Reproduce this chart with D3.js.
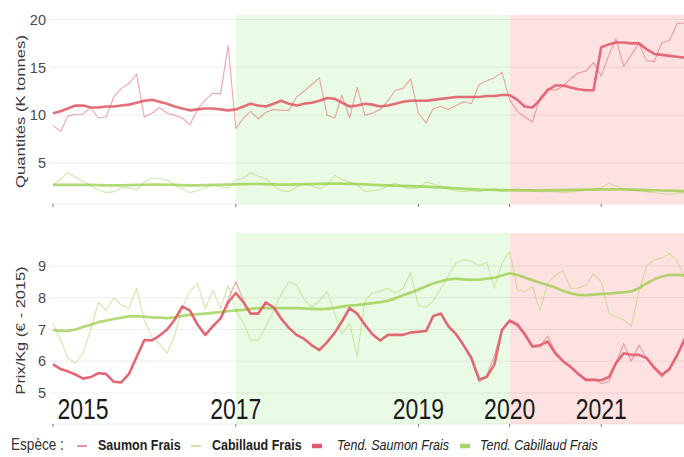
<!DOCTYPE html>
<html><head><meta charset="utf-8">
<script src="https://cdn.jsdelivr.net/npm/d3@7/dist/d3.min.js"></script>
<style>body{margin:0;background:#fff}svg{display:block;font-family:"Liberation Sans",Arial,sans-serif}</style>
</head><body><svg id="c" width="684" height="457"></svg>
<script>
// ---------- DATA (monthly, Jan 2015 onward) ----------
const startMonth = "2015-01";
const qtySaumon = [8.9,8.3,9.9,10.1,10.1,10.8,9.7,9.8,11.9,12.8,13.3,14.3,
 9.8,10.2,10.8,10.2,10.0,9.7,9.0,10.6,11.6,12.3,12.2,17.3,
 8.6,9.7,10.4,9.6,10.3,10.6,10.5,10.5,11.9,12.5,13.2,13.9,
 10.0,9.7,12.1,9.7,12.9,10.0,10.2,10.6,11.5,12.6,12.8,13.8,
 10.2,9.2,10.7,10.9,10.6,11.0,11.4,11.2,13.2,13.6,13.9,14.5,
 11.6,10.4,9.8,9.3,11.8,12.8,12.6,13.0,13.8,14.4,14.6,15.5,
 14.1,16.3,18.0,15.1,16.3,17.5,15.7,15.6,17.6,17.8,19.6,19.6];
const qtySaumonTend = [10.2,10.4,10.7,11.0,11.0,10.8,10.8,10.9,10.9,11.0,11.1,11.3,
 11.5,11.6,11.4,11.2,10.9,10.7,10.5,10.6,10.7,10.7,10.6,10.5,
 10.6,10.9,11.2,11.0,10.9,11.2,11.5,11.2,11.0,11.2,11.3,11.5,
 11.8,11.7,11.3,10.9,11.0,11.2,11.1,10.9,11.0,11.2,11.4,11.5,
 11.5,11.5,11.6,11.7,11.8,11.9,11.9,11.9,11.9,12.0,12.0,12.1,
 12.1,11.6,10.9,10.8,11.6,12.6,13.1,13.1,12.9,12.7,12.6,12.6,
 17.1,17.4,17.6,17.6,17.5,17.5,16.9,16.4,16.3,16.2,16.1,16.0];
const qtyCabillaud = [2.7,3.3,4.0,3.5,3.1,2.6,2.2,1.9,2.0,2.4,2.4,2.2,
 3.0,3.4,3.4,3.2,2.7,2.3,1.9,2.1,2.4,2.7,2.5,2.4,
 3.2,3.4,4.0,3.6,3.4,2.6,2.1,2.0,2.5,2.8,2.6,2.3,
 2.7,3.7,3.3,3.0,2.7,2.0,2.1,2.2,2.6,2.9,2.5,2.3,
 2.4,3.0,2.8,2.6,2.3,2.1,2.0,2.1,2.0,2.2,2.3,2.0,
 2.2,2.3,2.2,2.1,2.0,2.0,2.0,1.9,2.0,2.1,2.2,2.3,
 2.4,2.9,2.6,2.3,2.2,2.1,2.0,1.9,1.8,1.7,1.8,1.9];
const qtyCabillaudTend = [2.7,2.7,2.7,2.7,2.7,2.7,2.68,2.66,2.65,2.66,2.68,2.7,
 2.72,2.73,2.73,2.72,2.7,2.68,2.66,2.66,2.68,2.7,2.72,2.74,
 2.76,2.78,2.8,2.8,2.78,2.76,2.74,2.74,2.76,2.78,2.8,2.82,
 2.84,2.85,2.84,2.82,2.8,2.76,2.72,2.68,2.65,2.63,2.6,2.58,
 2.55,2.52,2.48,2.44,2.4,2.35,2.3,2.26,2.22,2.2,2.18,2.17,
 2.15,2.14,2.13,2.13,2.14,2.15,2.16,2.17,2.18,2.19,2.2,2.22,
 2.23,2.24,2.24,2.23,2.21,2.19,2.17,2.15,2.12,2.1,2.08,2.06];
const prixSaumon = [5.92,5.72,5.7,5.55,5.47,5.5,5.64,5.58,5.33,5.35,5.62,6.1,
 6.7,6.63,6.82,6.98,7.32,7.75,7.58,7.17,6.8,7.12,7.33,7.95,
 8.5,7.9,7.48,7.52,7.87,7.68,7.3,7.07,6.8,6.72,6.48,6.37,
 6.58,6.92,7.22,7.7,7.48,7.17,6.83,6.67,6.8,6.85,6.82,6.93,
 6.9,6.97,7.42,7.5,7.08,6.82,6.48,6.05,5.35,5.55,6.18,7.0,
 7.3,7.2,6.9,6.45,6.45,6.8,6.3,6.02,5.8,5.58,5.42,5.43,
 5.3,5.35,5.95,6.55,6.0,6.5,6.1,5.75,5.5,5.8,6.2,6.75];
const prixSaumonTend = [5.9,5.75,5.68,5.58,5.45,5.5,5.62,5.6,5.35,5.33,5.6,6.13,
 6.66,6.66,6.8,7.0,7.3,7.72,7.6,7.15,6.83,7.1,7.35,7.85,
 8.15,7.85,7.5,7.5,7.85,7.7,7.35,7.05,6.83,6.7,6.5,6.35,
 6.6,6.9,7.25,7.67,7.5,7.15,6.85,6.65,6.83,6.83,6.83,6.9,
 6.93,6.95,7.42,7.5,7.1,6.85,6.5,6.1,5.42,5.5,5.9,6.98,
 7.28,7.14,6.85,6.46,6.5,6.62,6.25,6.0,5.82,5.6,5.41,5.41,
 5.4,5.5,5.94,6.25,6.2,6.2,6.1,5.8,5.57,5.75,6.2,6.7];
const prixCabillaud = [7.2,6.65,6.1,5.94,6.25,7.0,7.85,7.6,8.0,7.78,7.67,8.3,
 7.3,6.75,6.55,6.25,6.8,7.7,8.2,8.45,7.65,8.24,7.65,8.4,
 7.6,7.2,6.67,6.65,7.1,7.6,8.1,8.5,8.4,7.95,7.7,7.9,
 8.2,7.5,6.85,7.2,6.14,7.9,8.15,8.2,8.3,8.15,8.3,8.8,
 7.75,7.7,7.9,8.3,8.7,9.1,9.2,9.15,9.0,9.13,8.3,9.1,
 9.45,8.25,8.2,8.35,7.6,8.45,8.7,8.85,8.3,8.3,8.4,8.75,
 8.5,7.5,7.4,7.3,7.1,8.2,9.0,9.2,9.25,9.4,9.15,8.6];
const prixCabillaudTend = [6.98,6.96,6.95,7.0,7.08,7.15,7.23,7.28,7.33,7.37,7.41,7.42,
 7.4,7.38,7.37,7.36,7.38,7.43,7.46,7.48,7.5,7.52,7.55,7.58,
 7.6,7.62,7.65,7.67,7.67,7.67,7.67,7.67,7.67,7.66,7.65,7.64,
 7.65,7.68,7.72,7.75,7.77,7.8,7.83,7.86,7.9,7.98,8.08,8.16,
 8.26,8.36,8.45,8.52,8.58,8.6,8.58,8.56,8.57,8.6,8.63,8.7,
 8.77,8.72,8.64,8.55,8.47,8.4,8.32,8.22,8.14,8.09,8.08,8.1,
 8.12,8.13,8.15,8.17,8.2,8.3,8.45,8.58,8.67,8.72,8.72,8.7];
const qtyTicks = [5,10,15,20];
const prixTicks = [5,6,7,8,9];
const xTickYears = ["2015","2017","2019","2020","2021"];
const yearLabels = [{t:"2015",d:"2015-05-01"},{t:"2017",d:"2017-01-01"},{t:"2019",d:"2019-01-01"},{t:"2020",d:"2020-01-01"},{t:"2021",d:"2021-01-01"}];
const periods = [{from:"2017-01-01",to:"2020-01-01",fill:"#eafbe5"},{from:"2020-01-01",to:"2021-12-31",fill:"#fee1e1"}];
const legendTitle = "Espèce :";
const legendItems = [
 {label:"Saumon Frais", color:"rgba(226,110,118,0.75)", w:2, style:"bold", x1:77, tx:98},
 {label:"Cabillaud Frais", color:"rgba(170,215,110,0.6)", w:2, style:"bold", x1:191, tx:212},
 {label:"Tend. Saumon Frais", color:"#e05a6a", w:4.5, style:"italic", x1:312, tx:337},
 {label:"Tend. Cabillaud Frais", color:"#a6d66a", w:4.5, style:"italic", x1:460, tx:480}
];

// ---------- SCALES ----------
const parse = d3.timeParse("%Y-%m-%d");
const t0 = d3.timeParse("%Y-%m")(startMonth);
const dates = qtySaumon.map((_, i) => d3.timeMonth.offset(t0, i));
const x = d3.scaleTime().domain([parse("2014-12-20"), parse("2021-11-28")]).range([50, 684]);

const svg = d3.select("#c");
const panels = [
 {y0:15, y1:204, dom:[0.71,20.47], ticks:qtyTicks, title:"Quantités (K tonnes)", tlen:153,
  series:[{v:qtyCabillaud, c:"rgba(175,218,115,0.6)", w:1.1},{v:qtySaumon, c:"rgba(226,105,115,0.6)", w:1.1},
          {v:qtyCabillaudTend, c:"rgba(145,203,60,0.7)", w:2.7},{v:qtySaumonTend, c:"rgba(224,85,100,0.85)", w:2.6}]},
 {y0:233, y1:424, dom:[4.02,10.04], ticks:prixTicks, title:"Prix/Kg (€ - 2015)", tlen:128,
  series:[{v:prixCabillaud, c:"rgba(175,218,115,0.6)", w:1.1},{v:prixSaumon, c:"rgba(226,105,115,0.6)", w:1.1},
          {v:prixCabillaudTend, c:"rgba(145,203,60,0.7)", w:2.7},{v:prixSaumonTend, c:"rgba(224,85,100,0.85)", w:2.6}]}
];

panels.forEach((p, pi) => {
  const y = d3.scaleLinear().domain(p.dom).range([p.y1, p.y0]);
  const g = svg.append("g");
  const cid = "clip" + pi;
  svg.append("clipPath").attr("id", cid).append("rect")
    .attr("x", 50).attr("y", p.y0).attr("width", 634).attr("height", p.y1 - p.y0);
  // shaded periods
  g.selectAll("rect.per").data(periods).join("rect")
    .attr("x", d => x(parse(d.from))).attr("y", p.y0)
    .attr("width", d => Math.min(684, x(parse(d.to))) - x(parse(d.from)))
    .attr("height", p.y1 - p.y0).attr("fill", d => d.fill);
  // grid
  g.selectAll("line.grid").data(p.ticks).join("line")
    .attr("x1", 50).attr("x2", 684).attr("y1", d => y(d)).attr("y2", d => y(d))
    .attr("stroke", "rgba(0,0,0,0.07)").attr("stroke-width", 1);
  g.append("line").attr("x1", 50).attr("x2", 684).attr("y1", p.y1).attr("y2", p.y1)
    .attr("stroke", "rgba(0,0,0,0.06)");
  // y tick labels
  g.selectAll("text.yt").data(p.ticks).join("text")
    .attr("x", 46).attr("y", d => y(d)).attr("dy", "0.36em").attr("text-anchor", "end")
    .attr("font-size", 14.5).attr("fill", "#4a4a4a").text(d => d);
  // x ticks
  g.selectAll("line.xt").data(xTickYears).join("line")
    .attr("x1", d => x(parse(d + "-01-01"))).attr("x2", d => x(parse(d + "-01-01")))
    .attr("y1", p.y1).attr("y2", p.y1 + 3).attr("stroke", "#777").attr("stroke-width", 1);
  // axis title
  g.append("text").attr("transform", `translate(20,${(p.y0 + p.y1) / 2 + 2}) rotate(-90)`)
    .attr("text-anchor", "middle").attr("dy", "0.35em").attr("font-size", 13.5).attr("fill", "#3a3a3a")
    .attr("textLength", p.tlen).attr("lengthAdjust", "spacingAndGlyphs").text(p.title);
  // lines
  const lg = g.append("g").attr("clip-path", `url(#${cid})`);
  p.series.forEach(s => {
    const line = d3.line().x((d, i) => x(dates[i])).y(d => y(d)).curve(d3.curveLinear);
    lg.append("path").attr("d", line(s.v)).attr("fill", "none")
      .attr("stroke", s.c).attr("stroke-width", s.w).attr("stroke-linejoin", "round");
  });
  if (pi === 1) {
    yearLabels.forEach(l => {
      svg.append("g").attr("transform", `translate(${x(parse(l.d))},419)`)
        .append("text").attr("transform", "scale(1,1.3)").attr("text-anchor", "middle")
        .attr("font-size", 23).attr("fill", "#1a1a1a").text(l.t);
    });
  }
});

// ---------- LEGEND ----------
const leg = svg.append("g");
leg.append("text").attr("x", 11).attr("y", 450.5).attr("font-size", 13.6).attr("fill", "#333")
  .attr("transform", "translate(0,-68) scale(1,1.15)").text(legendTitle);
legendItems.forEach(it => {
  leg.append("line").attr("x1", it.x1).attr("x2", it.x1 + 10).attr("y1", 446).attr("y2", 446)
    .attr("stroke", it.color).attr("stroke-width", it.w);
  leg.append("text").attr("x", it.tx).attr("y", 450.5).attr("font-size", 12.5).attr("fill", "#222")
    .attr("font-weight", it.style === "bold" ? "bold" : "normal")
    .attr("font-style", it.style === "italic" ? "italic" : "normal")
    .attr("transform", "translate(0,-68) scale(1,1.15)").text(it.label);
});
</script></body></html>
